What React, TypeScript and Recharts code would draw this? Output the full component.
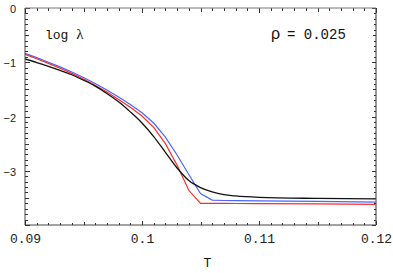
import { LineChart, Line, XAxis, YAxis } from "recharts";

// temperature samples and log(lambda) for the three curves
const T_VALUES = [
  0.09, 0.091, 0.092, 0.093, 0.094, 0.095, 0.096, 0.097, 0.098, 0.099, 0.1, 0.101, 0.102, 0.103, 0.104, 0.105,
  0.106, 0.107, 0.108, 0.11, 0.115, 0.12,
];
const BLACK = [
  -0.94, -1.005, -1.075, -1.15, -1.23, -1.33, -1.44, -1.575, -1.73, -1.915, -2.12, -2.37, -2.66, -2.95, -3.18, -3.31,
  -3.39, -3.44, -3.465, -3.49, -3.51, -3.52,
];
const BLUE = [
  -0.835, -0.915, -1.0, -1.085, -1.18, -1.28, -1.39, -1.51, -1.64, -1.78, -1.93, -2.12, -2.38, -2.71, -3.07, -3.42,
  -3.54, -3.548, -3.55, -3.555, -3.565, -3.58,
];
const RED = [
  -0.855, -0.935, -1.02, -1.11, -1.205, -1.31, -1.425, -1.55, -1.685, -1.83, -1.99, -2.2, -2.5, -2.9, -3.36, -3.6,
  -3.6, -3.602, -3.604, -3.606, -3.61, -3.62,
];

const X_MAJOR = [0.09, 0.1, 0.11, 0.12];
const X_LABELS = ["0.09", "0.1", "0.11", "0.12"];
const Y_MAJOR = [0, -1, -2, -3];
const Y_LABELS = ["0", "\u22121", "\u22122", "\u22123"];

const data = T_VALUES.map((t, i) => ({ t, black: BLACK[i], blue: BLUE[i], red: RED[i] }));

// minor ticks every 0.001 in T and 0.1 in log lambda
const xTicks = Array.from({ length: 31 }, (_, i) => (90 + i) / 1000);
const yTicks = Array.from({ length: 41 }, (_, i) => (i - 40) / 10);

const FRAME = "#444";
const TICK = "#333";
const MONO = "'Liberation Mono', 'DejaVu Sans Mono', monospace";
const SANS = "'Liberation Sans', Arial, sans-serif";

function tickLen(k: number) {
  if (k % 10 === 0) return 4.5;
  if (k % 5 === 0) return 3.5;
  return 2.5;
}

const XTick = (props: any) => {
  const { x, y, payload, side } = props;
  const v = Number(payload.value);
  const len = tickLen(Math.round(v * 1000));
  const dir = side === "top" ? 1 : -1;
  const idx = X_MAJOR.findIndex((m) => Math.abs(m - v) < 1e-9);
  const px = Math.round(Number(x)) + 0.5;
  const py = Number(y);
  return (
    <g>
      <path d={`M${px},${py}v${dir * len}`} stroke={TICK} strokeWidth={1} shapeRendering="crispEdges" />
      {side === "bottom" && idx >= 0 && (
        <text x={px} y={py + 18} textAnchor="middle" fontFamily={MONO} fontSize={13} fill="#222">
          {X_LABELS[idx]}
        </text>
      )}
    </g>
  );
};

const YTick = (props: any) => {
  const { x, y, payload, side } = props;
  const v = Number(payload.value);
  const len = tickLen(Math.round(v * 10));
  const dir = side === "left" ? 1 : -1;
  const idx = Y_MAJOR.findIndex((m) => Math.abs(m - v) < 1e-9);
  const px = Number(x);
  const py = Math.round(Number(y)) + 0.5;
  return (
    <g>
      <path d={`M${px},${py}h${dir * len}`} stroke={TICK} strokeWidth={1} shapeRendering="crispEdges" />
      {side === "left" && idx >= 0 && (
        <text x={px - 9} y={py + 4} textAnchor="end" fontFamily={SANS} fontSize={11} fill="#222">
          {Y_LABELS[idx]}
        </text>
      )}
    </g>
  );
};

export default function App() {
  return (
    <div style={{ position: "absolute", left: 0, top: 0, width: 393, height: 273, background: "#fff" }}>
      <LineChart width={393} height={273} data={data} margin={{ top: 7, right: 0, left: 0, bottom: 0 }}>
        <XAxis
          xAxisId="b"
          dataKey="t"
          type="number"
          domain={[0.09, 0.12]}
          ticks={xTicks}
          interval={0}
          height={48}
          tickSize={0}
          tickMargin={0}
          axisLine={{ stroke: FRAME }}
          tickLine={false}
          tick={<XTick side="bottom" />}
          allowDataOverflow
        />
        <XAxis
          xAxisId="top"
          orientation="top"
          dataKey="t"
          type="number"
          domain={[0.09, 0.12]}
          ticks={xTicks}
          interval={0}
          height={1}
          tickSize={0}
          tickMargin={0}
          axisLine={false}
          tickLine={false}
          tick={<XTick side="top" />}
          allowDataOverflow
        />
        <YAxis
          yAxisId="l"
          type="number"
          domain={[-4, 0]}
          ticks={yTicks}
          interval={0}
          width={25}
          tickSize={0}
          tickMargin={0}
          axisLine={{ stroke: FRAME }}
          tickLine={false}
          tick={<YTick side="left" />}
          allowDataOverflow
        />
        <YAxis
          yAxisId="r"
          orientation="right"
          dataKey="black"
          type="number"
          domain={[-4, 0]}
          ticks={yTicks}
          interval={0}
          width={17}
          tickSize={0}
          tickMargin={0}
          axisLine={{ stroke: "#777", strokeWidth: 1.5 }}
          tickLine={false}
          tick={<YTick side="right" />}
          allowDataOverflow
        />
        <Line xAxisId="b" yAxisId="l" type="linear" dataKey="blue" stroke="#4a64ff" strokeWidth={1.2} dot={false} isAnimationActive={false} />
        <Line xAxisId="b" yAxisId="l" type="linear" dataKey="red" stroke="#ff2a2a" strokeWidth={1.2} dot={false} isAnimationActive={false} />
        <Line xAxisId="b" yAxisId="l" type="monotone" dataKey="black" stroke="#111" strokeWidth={1.3} dot={false} isAnimationActive={false} />
      </LineChart>
      <svg width={393} height={273} style={{ position: "absolute", left: 0, top: 0, pointerEvents: "none" }}>
        {/* top frame edge */}
        <line x1={25} x2={376} y1={8} y2={8} stroke="#777" strokeWidth={1} />
        <text x={45} y={38.5} fontFamily={MONO} fontSize={13} fill="#111">
          log <tspan fontFamily="'Liberation Serif', serif" fontSize={15}>λ</tspan>
        </text>
        <text x={271} y={39} fontFamily={SANS} fontSize={16} fill="#111">ρ</text>
        <text x={287} y={39} fontFamily={MONO} fontSize={14} fill="#111">= 0.025</text>
        <text x={207.5} y={267} textAnchor="middle" fontFamily={MONO} fontSize={13} fill="#111">T</text>
      </svg>
    </div>
  );
}
